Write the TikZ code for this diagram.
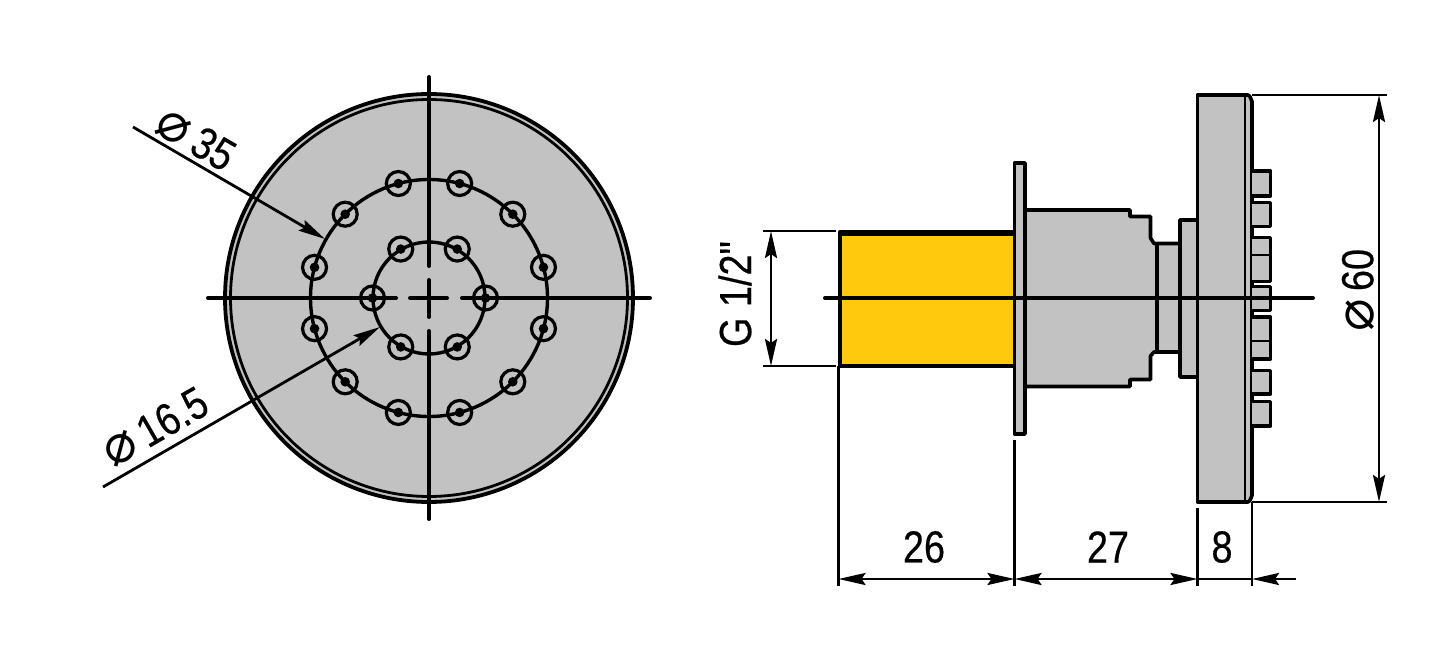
\documentclass[tikz,border=0pt]{standalone}
\usepackage{fontspec}
\newfontfamily\lblfont[FakeStretch=0.84,FakeBold=0.4]{Liberation Sans}
\newfontfamily\diafont[FakeStretch=1.0]{DejaVu Sans}
\usetikzlibrary{arrows.meta,calc}
\definecolor{partgrey}{HTML}{C2C2C2}
\definecolor{threadyellow}{HTML}{FFC90E}
\tikzset{
  outline/.style={draw=black,line width=3.6pt,line join=round,fill=partgrey},
  centre/.style={draw=black,line width=4pt,line cap=round},
  dimline/.style={draw=black,line width=2.8pt},
  dimtip/.style={{Stealth[length=27pt,width=12pt,inset=4pt]}-{Stealth[length=27pt,width=12pt,inset=4pt]}},
  endtip/.style={-{Stealth[length=27pt,width=12pt,inset=4pt]}},
  label/.style={inner sep=0pt,font=\lblfont\fontsize{45}{45}\selectfont,text=black},
}
\newcommand{\dia}{{\diafont\fontsize{54}{54}\selectfont\char"2300}}
\begin{document}
\begin{tikzpicture}[x=1pt,y=-1pt]
\useasboundingbox (0,0) rectangle (1449,660);
% ---- front view
\coordinate (c) at (429,298);
\fill[white] (0,0) rectangle (1449,660);
\filldraw[fill=partgrey,draw=black,line width=3.8pt] (c) circle[radius=204];
\draw[black,line width=2.8pt] (c) circle[radius=198.5];
\draw[black,line width=3.4pt] (c) circle[radius=118.5];
\draw[black,line width=3.4pt] (c) circle[radius=56];
\foreach \a in {15,45,...,345}{
  \draw[black,line width=3.2pt] ($(c)+(\a:118.5)$) circle[radius=12];
  \fill[black] ($(c)+(\a:118.5)$) circle[radius=4.8];
}
\foreach \a in {0,60,...,300}{
  \draw[black,line width=3.2pt] ($(c)+(\a:56.5)$) circle[radius=12];
  \fill[black] ($(c)+(\a:56.5)$) circle[radius=4.8];
}
\draw[centre] (429,77) -- (429,266) (429,280) -- (429,317) (429,331) -- (429,519);
\draw[centre] (208,298) -- (396,298) (410,298) -- (447,298) (462,298) -- (650,298);
\coordinate (la) at (133,127);
\coordinate (ta) at (325,239);
\coordinate (lb) at (103,487);
\coordinate (tb) at (380,327);
\draw[dimline,endtip] (la) -- (ta);
\draw[dimline,endtip] (lb) -- (tb);
\node[label,rotate=-30] (d35) at (196,139) {\dia\,35};
\node[label,rotate=30] (d165) at (155,427) {\dia\,16.5};
% ---- side view
\fill[threadyellow] (840,233) rectangle (1014,365);
\draw[black,line width=4.4pt,line join=round] (1014,232) -- (840,232) -- (840,366) -- (1014,366);
\draw[black,line width=2pt] (841,235.5) -- (1014,235.5);
\draw[outline] (1014.5,163) rectangle (1025,434);
\draw[outline] (1025,210) -- (1130,210) -- (1130,216.5) -- (1150.5,216.5) -- (1150.5,238) -- (1154,243.5) -- (1180,243.5)
  -- (1180,352) -- (1154,352) -- (1150.5,356) -- (1150.5,379.5) -- (1130,379.5) -- (1130,386.5) -- (1025,386.5) -- cycle;
\draw[black,line width=3.2pt] (1157,243.5) -- (1157,352);
\draw[outline] (1180,220) -- (1197.5,220) -- (1197.5,377) -- (1180,377) -- cycle;
\draw[outline] (1197.5,95) -- (1246,95) -- (1246,502) -- (1197.5,502) -- cycle;
\draw[outline] (1246,95) -- (1248,95) to[out=0,in=-90] (1252,101) -- (1252,496) to[out=90,in=0] (1248,502) -- (1246,502);
\foreach \t/\b in {171/196,202.5/226.5,237.5/281.5,286.5/310.5,317/359,370.5/394,401.5/426}{
  \draw[outline] (1252,\t) -- (1270.5,\t) -- (1270.5,\b) -- (1252,\b);
}
\draw[black,line width=2pt] (1252,255) -- (1270.5,255) (1252,341.5) -- (1270.5,341.5);
\draw[centre] (825,298) -- (1313,298);
% ---- dimensions
\coordinate (g1) at (771,231);
\coordinate (g2) at (771,366);
\draw[dimline] (763,231) -- (836,231) (763,366) -- (836,366);
\draw[dimline,dimtip] (g1) -- (g2);
\node[label,rotate=90] (g) at (735,294) {G 1/2"};
\coordinate (s1) at (1252,95);
\coordinate (s2) at (1252,502);
\draw[dimline] (s1) -- (1387,95) (s2) -- (1387,502);
\coordinate (v1) at (1379,95);
\coordinate (v2) at (1379,502);
\draw[dimline,dimtip] (v1) -- (v2);
\node[label,rotate=90] (d60) at (1358,290) {\dia\,60};
\draw[dimline] (838.5,366) -- (838.5,586) (1014.5,440) -- (1014.5,586) (1197.5,508) -- (1197.5,586) (1252,502) -- (1252,586);
\coordinate (h1) at (838.5,579);
\coordinate (h2) at (1014.5,579);
\coordinate (h3) at (1197.5,579);
\coordinate (h4) at (1252,579);
\coordinate (h5) at (1296,579);
\draw[dimline,dimtip] (h1) -- (h2);
\draw[dimline,dimtip] (h2) -- (h3);
\draw[dimline] (h3) -- (h4);
\draw[dimline,endtip] (h5) -- (h4);
\node[label] (n26) at (924,547) {26};
\node[label] (n27) at (1108,547) {27};
\node[label] (n8) at (1222,547) {8};
\end{tikzpicture}
\end{document}
